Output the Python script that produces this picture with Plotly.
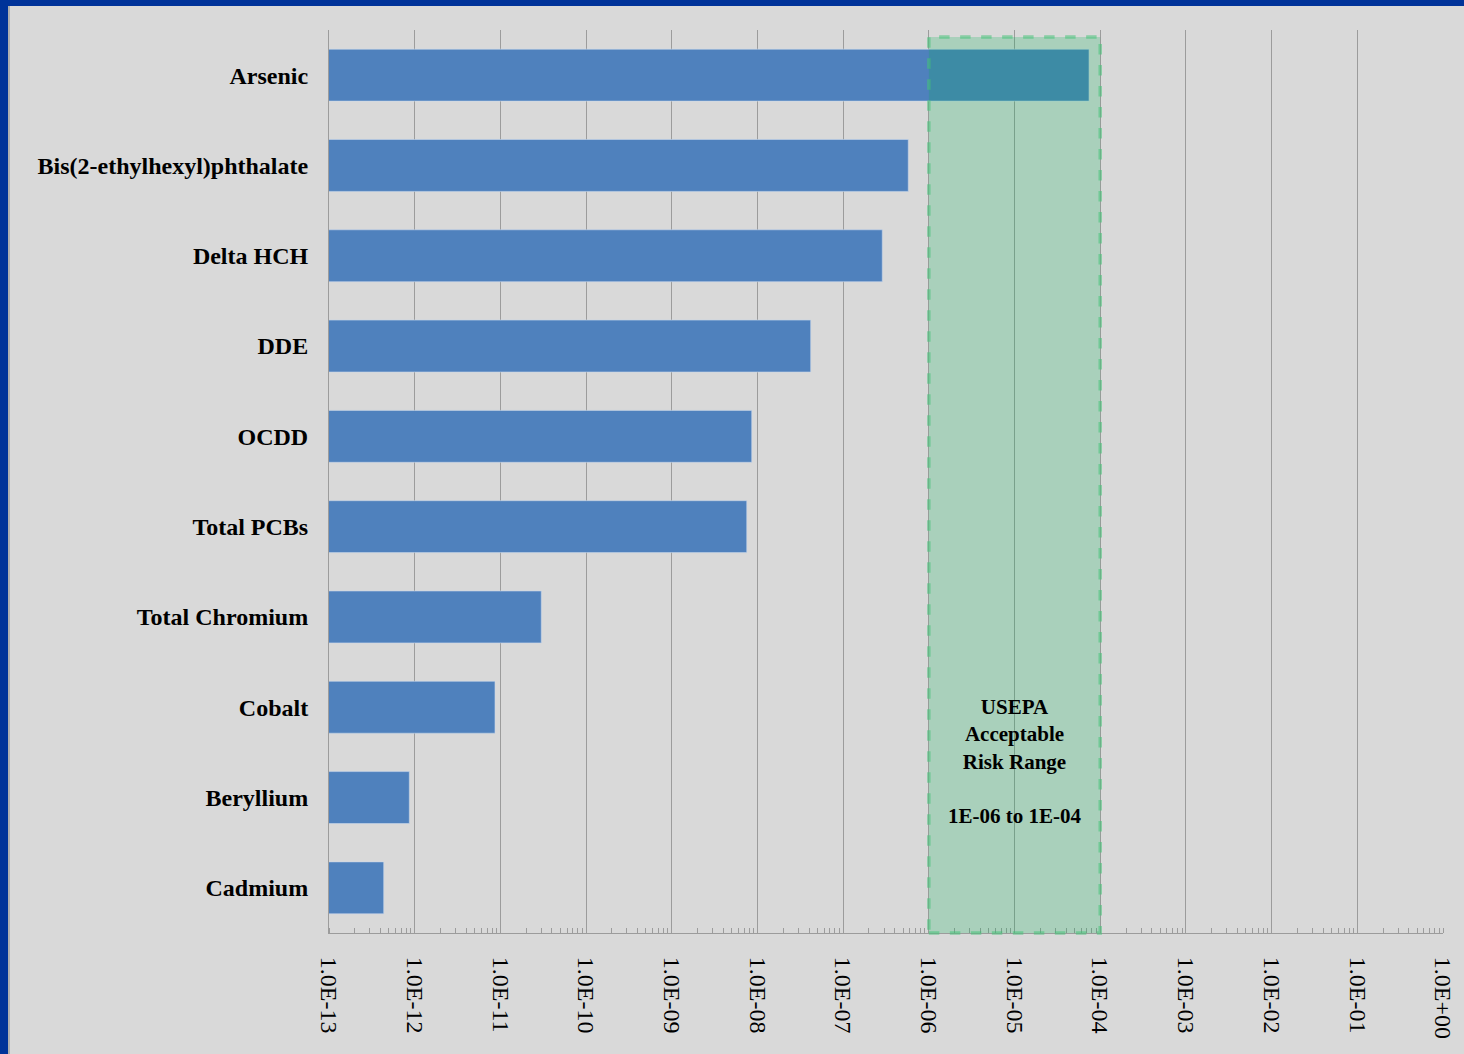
import math
import plotly.graph_objects as go

categories = ["Arsenic", "Bis(2-ethylhexyl)phthalate", "Delta HCH", "DDE", "OCDD",
              "Total PCBs", "Total Chromium", "Cobalt", "Beryllium", "Cadmium"]
risk_values = [7.4e-05, 5.75e-07, 2.86e-07, 4.18e-08, 8.57e-09,
               7.5e-09, 3.0e-11, 8.65e-12, 8.65e-13, 4.35e-13]
tick_exponents = list(range(-13, 1))
tick_labels = ["1.0E-13", "1.0E-12", "1.0E-11", "1.0E-10", "1.0E-09", "1.0E-08", "1.0E-07",
               "1.0E-06", "1.0E-05", "1.0E-04", "1.0E-03", "1.0E-02", "1.0E-01", "1.0E+00"]
range_low, range_high = 1e-06, 1e-04
range_text = "USEPA<br>Acceptable<br>Risk Range<br><br>1E-06 to 1E-04"

W, H = 1464, 1054
ml, mr, mt, mb = 329, 21, 30, 121
pw, ph = W - ml - mr, H - mt - mb
xmin_exp, xmax_exp = tick_exponents[0], tick_exponents[-1]
span = xmax_exp - xmin_exp

fig = go.Figure()
fig.add_trace(go.Bar(
    y=categories, x=risk_values, orientation="h",
    marker=dict(color="#4f81bd", line=dict(color="rgba(200,215,235,0.6)", width=1)),
    width=0.575,
))

serif = "Liberation Serif, Times New Roman, serif"

fig.update_layout(
    width=W, height=H,
    margin=dict(l=ml, r=mr, t=mt, b=mb, pad=0, autoexpand=False),
    paper_bgcolor="#d9d9d9", plot_bgcolor="#d9d9d9",
    showlegend=False,
    bargap=0.4,
    xaxis=dict(
        type="log", range=[xmin_exp, xmax_exp], automargin=False,
        tickvals=[10.0 ** e for e in tick_exponents], ticktext=tick_labels,
        tickangle=90, tickfont=dict(family=serif, size=24, color="black"),
        showgrid=True, gridcolor="#9c9c9c", gridwidth=1,
        showline=True, linecolor="#9c9c9c", linewidth=1,
        ticks="outside", ticklen=18, tickcolor="rgba(0,0,0,0)",
        minor=dict(ticks="inside", ticklen=5, tickcolor="#9c9c9c", dtick="D1", showgrid=False),
        zeroline=False,
    ),
    yaxis=dict(
        categoryorder="array", categoryarray=categories, autorange="reversed", automargin=False,
        tickfont=dict(family=serif, size=24, color="black", weight="bold"),
        showgrid=False, showline=True, linecolor="#9c9c9c", linewidth=1,
        ticks="outside", ticklen=15, tickcolor="rgba(0,0,0,0)",
    ),
)

# Acceptable risk range band (positioned in x-domain fractions derived from the range)
dx0 = (math.log10(range_low) - xmin_exp) / span
dx1 = (math.log10(range_high) - xmin_exp) / span
fig.add_shape(type="rect", xref="x domain", yref="paper",
              x0=dx0, x1=dx1,
              y0=0, y1=(H - mb - 37) / ph,
              fillcolor="rgba(0,176,80,0.22)",
              line=dict(color="rgba(70,195,120,0.55)", width=3.5, dash="dash"),
              layer="above")

fig.add_annotation(xref="x domain", yref="paper",
                   x=(dx0 + dx1) / 2, y=(H - mb - 761) / ph,
                   xanchor="center", yanchor="middle",
                   text="<b>" + range_text + "</b>", showarrow=False,
                   font=dict(family=serif, size=21, color="black"), align="center")

# Blue frame on left and top edges
fig.add_shape(type="rect", xref="paper", yref="paper",
              x0=-ml / pw, x1=(8 - ml) / pw, y0=-(mb) / ph, y1=1 + mt / ph,
              fillcolor="#003399", line=dict(width=0), layer="above")
fig.add_shape(type="rect", xref="paper", yref="paper",
              x0=-ml / pw, x1=1 + mr / pw, y0=1 + (mt - 6) / ph, y1=1 + mt / ph,
              fillcolor="#003399", line=dict(width=0), layer="above")
fig.add_shape(type="line", xref="paper", yref="paper",
              x0=(9 - ml) / pw, x1=(9 - ml) / pw, y0=-(mb) / ph, y1=1 + (mt - 6) / ph,
              line=dict(color="#a0a0a0", width=1.5), layer="above")

fig.write_html("out.html",
               config={"displayModeBar": False, "responsive": False},
               post_script="document.body.style.margin='0';document.body.style.overflow='hidden';")
